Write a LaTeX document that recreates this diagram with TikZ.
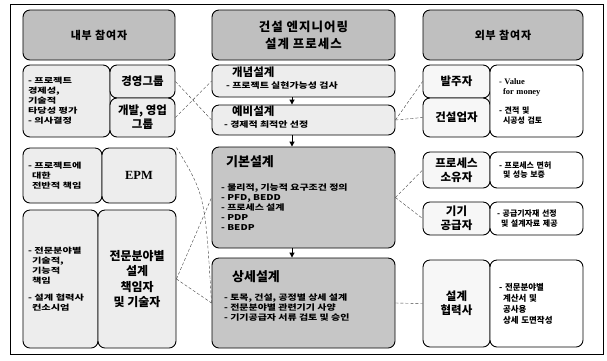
\documentclass[tikz,border=0pt]{standalone}
\usepackage{fontspec}
\setmainfont{Noto Sans CJK KR}
\newfontfamily\serifb{Liberation Serif}
\newfontfamily\krw{Noto Sans CJK KR}[FakeStretch=1.35]
\newfontfamily\krm{Noto Sans CJK KR}[FakeStretch=1.25]
\newfontfamily\krh{Noto Sans CJK KR}[LetterSpace=8]
\usetikzlibrary{arrows.meta}
\begin{document}
\begin{tikzpicture}[x=1bp,y=-1bp,
  box/.style={draw=black, line width=0.9pt, rounded corners=7bp, inner sep=0pt, font=\bfseries},
  hdr/.style={box, fill=gray!50, align=center, font=\krh\bfseries\fontsize{11}{16}\selectfont},
  lbl/.style={box, fill=gray!14, align=center, font=\bfseries\fontsize{11.5}{14}\selectfont},
  rlbl/.style={box, fill=gray!6, align=center, font=\bfseries\fontsize{11.5}{14}\selectfont},
  ltxt/.style={box, fill=gray!14, align=left, inner xsep=5bp, font=\krw\bfseries\fontsize{7.6}{10}\selectfont},
  rtxt/.style={box, fill=white, align=left, inner xsep=9bp, font=\bfseries\fontsize{8}{10}\selectfont},
  proc/.style={box, fill=gray!14},
  procd/.style={box, fill=gray!45},
  ptitle/.style={anchor=north west, inner sep=0pt, font=\bfseries\fontsize{11.5}{14}\selectfont},
  ptxt/.style={anchor=north west, inner sep=0pt, align=left, font=\krm\bfseries\fontsize{8}{10}\selectfont},
  link/.style={densely dashed, line width=0.4pt, black!75},
  flow/.style={line width=1pt, -{Triangle[length=5bp,width=5bp]}}
]
\useasboundingbox (0,0) rectangle (607,360);
\node[draw=black, line width=1pt, minimum width=592bp, minimum height=350bp, inner sep=0pt] (frame) at (307,179) {};

% headers
\node[hdr, minimum width=152bp, minimum height=50bp] (hL) at (99,35) {내부 참여자};
\node[hdr, minimum width=183bp, minimum height=50bp, font=\krh\bfseries\fontsize{12.5}{17}\selectfont] (hC) at (303.5,35) {건설 엔지니어링\\설계 프로세스};
\node[hdr, minimum width=160bp, minimum height=50bp] (hR) at (503,35) {외부 참여자};

% left column
\node[ltxt, text width=77bp, minimum height=72bp] (L1t) at (66.5,101) {- 프로젝트\\경제성,\\기술적\\타당성 평가\\- 의사결정};
\node[lbl, minimum width=65bp, minimum height=33bp] (L1a) at (142.5,81.5) {경영그룹};
\node[lbl, minimum width=65bp, minimum height=39bp] (L1b) at (142.5,117.5) {개발, 영업\\그룹};
\node[ltxt, text width=69bp, minimum height=55bp] (L2t) at (62.5,175.5) {- 프로젝트에\\\hspace*{4bp}대한\\\hspace*{4bp}전반적 책임};
\node[lbl, minimum width=74bp, minimum height=55bp, font=\serifb\bfseries\fontsize{12.5}{14}\selectfont] (EPM) at (139,175.5) {EPM};
\node[ltxt, text width=65bp, minimum height=138bp] (L3t) at (60.5,279) {- 전문분야별\\\hspace*{4bp}기술적,\\\hspace*{4bp}기능적\\\hspace*{4bp}책임\\[7bp]- 설계 협력사\\\hspace*{4bp}컨소시엄};
\node[lbl, minimum width=78bp, minimum height=138bp, font=\bfseries\fontsize{12}{15.5}\selectfont] (L3) at (137,279) {전문분야별\\설계\\책임자\\및 기술자};

% center column
\node[proc, minimum width=183bp, minimum height=32bp] (C1) at (303.5,81) {};
\node[ptitle] (C1h) at (232,67) {개념설계};
\node[ptxt] (C1b) at (226,82) {- 프로젝트 실현가능성 검사};
\node[proc, minimum width=183bp, minimum height=30bp] (C2) at (303.5,120) {};
\node[ptitle] (C2h) at (232,106) {예비설계};
\node[ptxt] (C2b) at (224,121) {- 경제적 최적안 선정};
\node[procd, minimum width=183bp, minimum height=101bp] (C3) at (303.5,197.5) {};
\node[ptitle, font=\bfseries\fontsize{13}{15}\selectfont] (C3h) at (226,155) {기본설계};
\node[ptxt] (C3b) at (221,184) {- 물리적, 기능적 요구조건 정의\\- PFD, BEDD\\- 프로세스 설계\\- PDP\\- BEDP};
\node[procd, minimum width=183bp, minimum height=90bp] (C4) at (303.5,303) {};
\node[ptitle, font=\bfseries\fontsize{13}{15}\selectfont] (C4h) at (232,270) {상세설계};
\node[ptxt] (C4b) at (224,294) {- 토목, 건설, 공정별 상세 설계\\- 전문분야별 관련기기 사양\\- 기기공급자 서류 검토 및 승인};

\coordinate (ax) at (292,0);
\draw[flow] (C1.south -| ax) -- (C2.north -| ax);
\draw[flow] (C2.south -| ax) -- (C3.north -| ax);
\draw[flow] (C3.south -| ax) -- (C4.north -| ax);

% right column
\node[rlbl, minimum width=67bp, minimum height=33bp] (R1a) at (456.5,81.5) {발주자};
\node[rlbl, minimum width=67bp, minimum height=39bp] (R1b) at (456.5,117.5) {건설업자};
\node[rtxt, text width=75bp, minimum height=72bp] (R1t) at (536.5,101) {{\serifb\bfseries\fontsize{8.5}{10}\selectfont - Value}\\{\serifb\bfseries\fontsize{8.5}{10}\selectfont \hspace*{4bp}for money}\\[9bp]- 견적 및\\\hspace*{4bp}시공성 검토};
\node[rlbl, minimum width=67bp, minimum height=36bp] (R2) at (456.5,170) {프로세스\\소유자};
\node[rtxt, text width=75bp, minimum height=36bp] (R2t) at (536.5,170) {- 프로세스 면허\\\hspace*{4bp}및 성능 보증};
\node[rlbl, minimum width=67bp, minimum height=33bp] (R3) at (456.5,218.5) {기기\\공급자};
\node[rtxt, text width=79bp, minimum height=33bp, inner xsep=7bp] (R3t) at (536.5,218.5) {- 공급기자재 선정\\\hspace*{4bp}및 설계자료 제공};
\node[rlbl, minimum width=67bp, minimum height=87bp] (R4) at (456.5,303.5) {설계\\협력사};
\node[rtxt, text width=75bp, minimum height=87bp, font=\bfseries\fontsize{8.5}{11}\selectfont] (R4t) at (536.5,303.5) {- 전문분야별\\\hspace*{4bp}계산서 및\\\hspace*{4bp}공사용\\\hspace*{4bp}상세 도면작성};

% links
\draw[link] (L1a.east) -- (C2.west);
\draw[link] (L1b.east) -- (C1.west);
\draw[link] (EPM.north east) .. controls (205,195) .. (C4.west);
\draw[link] (L3.east) -- (C3.west);
\draw[link] (L3.east) -- (C4.west);
\draw[link] (C2.east) -- (R1a.west);
\draw[link] (C2.east) -- (R1b.west);
\draw[link] (C3.east) -- (R2.west);
\draw[link] (C3.east) -- (R3.west);
\draw[link] (C4.east) -- (R4.west);
\end{tikzpicture}
\end{document}
